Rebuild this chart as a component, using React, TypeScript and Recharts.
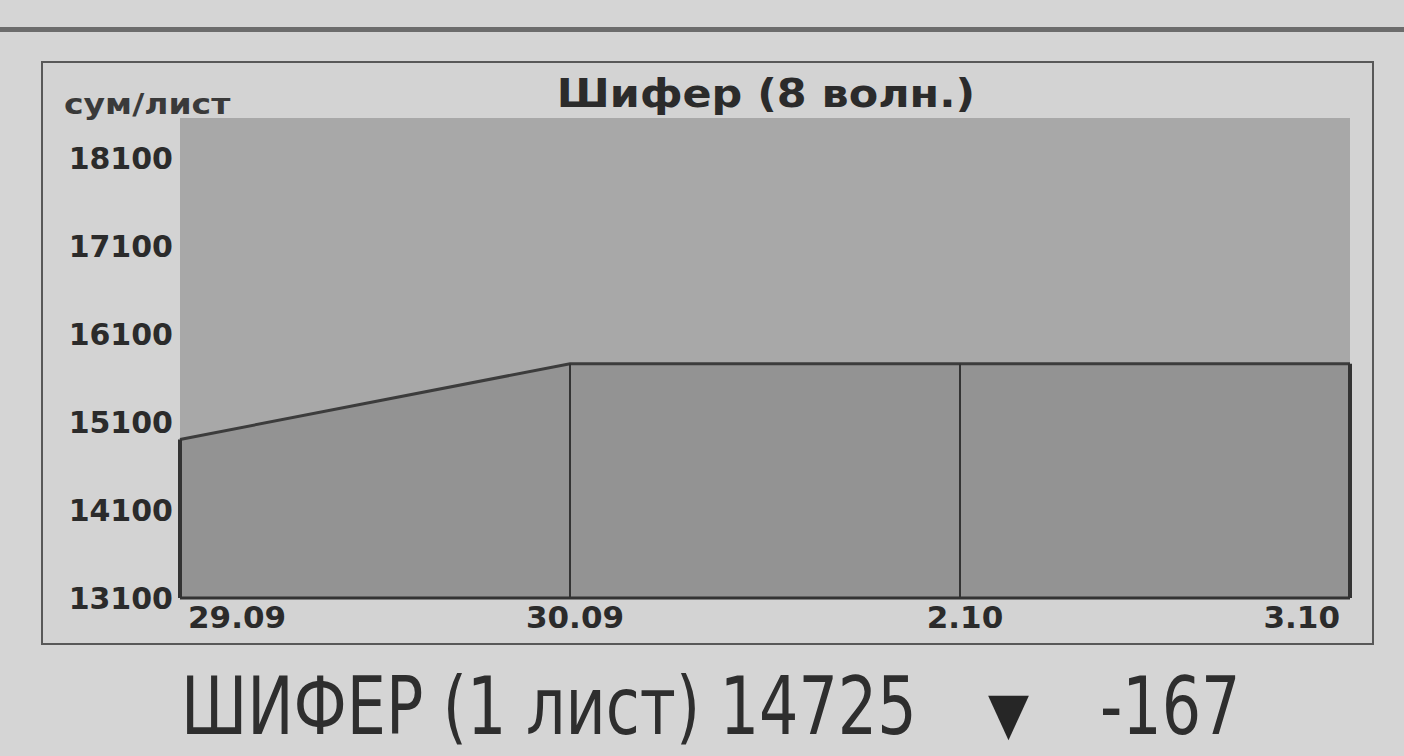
import React from 'react';
import { AreaChart, Area, XAxis, YAxis, CartesianGrid, ReferenceLine } from 'recharts';

const dates = ['29.09', '30.09', '2.10', '3.10'];
const prices = [14900, 15760, 15760, 15760];
const yTicks = [13100, 14100, 15100, 16100, 17100, 18100];
const yMin = 13100;
const yMax = 18550;

const data = dates.map((d, i) => ({ date: d, price: prices[i] }));

const FONT = '"DejaVu Sans", Arial, sans-serif';
const NARROW = '"DejaVu Sans Condensed", "Liberation Sans Narrow", sans-serif';
const INK = '#2b2b2b';

const XTick = (props: any) => {
  const { x, y, payload, index } = props;
  const last = index === dates.length - 1;
  const anchor = index === 0 ? 'start' : last ? 'end' : 'middle';
  const dx = index === 0 ? 8 : last ? -10 : 5;
  return (
    <text x={x + dx} y={y + 22} textAnchor={anchor} fill={INK} fontSize={31} fontWeight="bold" fontFamily={FONT}>
      {payload.value}
    </text>
  );
};

const YTick = (props: any) => {
  const { x, y, payload } = props;
  return (
    <text x={x} y={y + 11} textAnchor="end" fill={INK} fontSize={30} fontWeight="bold" fontFamily={FONT}>
      {payload.value}
    </text>
  );
};

export default function App() {
  const bottom = { position: 'absolute' as const, top: 667, fontSize: 80, color: '#2e2e2e', fontFamily: NARROW, whiteSpace: 'nowrap' as const, lineHeight: 1, transformOrigin: 'left top', transform: 'scaleX(0.86)' };
  return (
    <div style={{ position: 'fixed', left: 0, top: 0, width: 1404, height: 756, background: '#d5d5d5', overflow: 'hidden', fontFamily: FONT }}>
      <div style={{ position: 'absolute', left: 0, top: 27, width: 1404, height: 5, background: '#6c6c6c' }} />
      <div style={{ position: 'absolute', left: 41, top: 61, width: 1329, height: 580, border: '2px solid #585858', background: '#d3d3d3' }} />
      <div style={{ position: 'absolute', left: 64, top: 91, fontSize: 28, lineHeight: 1, fontWeight: 'bold', color: '#3a3a3a', transformOrigin: 'left top', transform: 'scaleX(1.18)', whiteSpace: 'nowrap' }}>сум/лист</div>
      <div style={{ position: 'absolute', left: 466, top: 74, width: 600, textAlign: 'center', fontSize: 39, lineHeight: 1, fontWeight: 'bold', color: INK, transform: 'scaleX(1.1)', whiteSpace: 'nowrap' }}>Шифер (8 волн.)</div>
      <div style={{ position: 'absolute', left: 42, top: 62 }}>
        <AreaChart width={1330} height={581} data={data} margin={{ top: 56, right: 22, bottom: 0, left: 0 }}>
          <CartesianGrid horizontal={false} vertical={false} fill="#a8a8a8" stroke="none" />
          <YAxis
            type="number"
            domain={[yMin, yMax]}
            ticks={yTicks}
            width={138}
            axisLine={false}
            tickLine={false}
            tickMargin={1}
            tick={<YTick />}
          />
          <XAxis
            dataKey="date"
            height={45}
            axisLine={{ stroke: '#333', strokeWidth: 3 }}
            tickLine={false}
            tick={<XTick />}
            interval={0}
          />
          <Area
            type="linear"
            dataKey="price"
            stroke="#3c3c3c"
            strokeWidth={3}
            fill="#939393"
            fillOpacity={1}
            baseValue={yMin}
            isAnimationActive={false}
            dot={false}
            activeDot={false}
          />
          {data.map((d, i) => (
            <ReferenceLine
              key={d.date}
              segment={[{ x: d.date, y: yMin }, { x: d.date, y: d.price }]}
              stroke="#333"
              strokeWidth={i === 0 || i === data.length - 1 ? 4 : 2}
            />
          ))}
        </AreaChart>
      </div>
      <div style={{ ...bottom, left: 181 }}>ШИФЕР (1 лист) 14725</div>
      <div style={{ position: 'absolute', left: 988, top: 684, fontSize: 58, lineHeight: 1, color: '#262626', fontFamily: FONT, transformOrigin: 'left top', transform: 'scaleX(0.92)' }}>▼</div>
      <div style={{ ...bottom, left: 1100 }}>-167</div>
    </div>
  );
}
